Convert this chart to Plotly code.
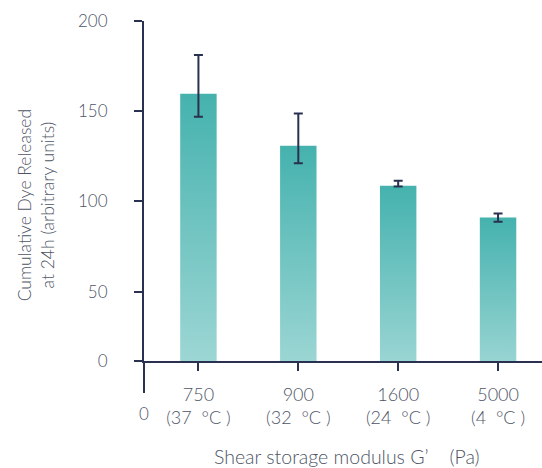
import plotly.graph_objects as go

categories = ["750<br>(37  °C )", "900<br>(32  °C )", "1600<br>(24  °C )", "5000<br>(4  °C )"]
values = [159.7, 130.9, 108.6, 91.1]
err_plus = [21.4, 17.8, 2.9, 2.2]
err_minus = [12.8, 9.8, 0.3, 2.4]
ytick_vals = [11.5, 50, 100, 150, 200]
ytick_text = ["0", "50", "100", "150", "200"]

NAVY = "#2a3150"
TXT = "#4e5566"
FONT = "Lato"
BAR_W = 0.365

fig = go.Figure()
for i, v in enumerate(values):
    fig.add_trace(go.Scatter(
        x=[i - BAR_W / 2, i - BAR_W / 2, i + BAR_W / 2, i + BAR_W / 2],
        y=[0, v, v, 0],
        fill="toself", mode="lines", line=dict(width=0),
        fillgradient=dict(type="vertical",
                          colorscale=[[0, "#a3d9d7"], [1, "#45b2ae"]]),
        hoverinfo="skip", showlegend=False,
    ))

fig.add_trace(go.Scatter(
    x=list(range(len(values))), y=values, mode="markers",
    marker=dict(size=1, opacity=0),
    error_y=dict(type="data", symmetric=False, array=err_plus, arrayminus=err_minus,
                 color=NAVY, thickness=2, width=4.5),
    showlegend=False,
))

fig.update_layout(
    width=542, height=468,
    margin=dict(l=143.5, r=0, t=20.7, b=107.3),
    plot_bgcolor="white", paper_bgcolor="white",
    font=dict(family=FONT, color=TXT, size=17, weight=300),
    xaxis=dict(range=[-0.545, 3.44], tickvals=list(range(len(categories))),
               ticktext=categories, showline=True, linecolor=NAVY, linewidth=2,
               ticks="outside", ticklen=8, tickwidth=2, tickcolor=NAVY,
               showgrid=False, zeroline=False, tickfont=dict(size=18),
               ticklabelstandoff=8),
    yaxis=dict(range=[11.5, 200], tickvals=ytick_vals, ticktext=ytick_text,
               showline=True, linecolor=NAVY, linewidth=2,
               ticks="outside", ticklen=8, tickwidth=2, tickcolor=NAVY,
               showgrid=False, zeroline=False, tickfont=dict(size=17),
               ticklabelstandoff=23),
    shapes=[dict(type="line", xref="paper", yref="paper", x0=0, x1=0,
                 y0=-32 / 339.3, y1=0, line=dict(color=NAVY, width=2))],
    annotations=[
        dict(text="0", xref="paper", yref="paper", x=0, y=-52 / 339.3,
             showarrow=False, font=dict(size=17), xanchor="center", yanchor="middle"),
        dict(text="Shear storage modulus G’    (Pa)", xref="paper", yref="paper",
             x=(347 - 143.5) / 398.5, y=-(455 - 360) / 339.3, showarrow=False,
             font=dict(size=19.5), xanchor="center", yanchor="middle"),
        dict(text="Cumulative Dye Released<br>at 24h (arbitrary units)", xref="paper",
             yref="paper", x=-(143.5 - 35) / 398.5, y=(360 - 205) / 339.3,
             textangle=-90, showarrow=False, font=dict(size=17.5),
             xanchor="center", yanchor="middle"),
    ],
)

fig.write_html("out.html")
